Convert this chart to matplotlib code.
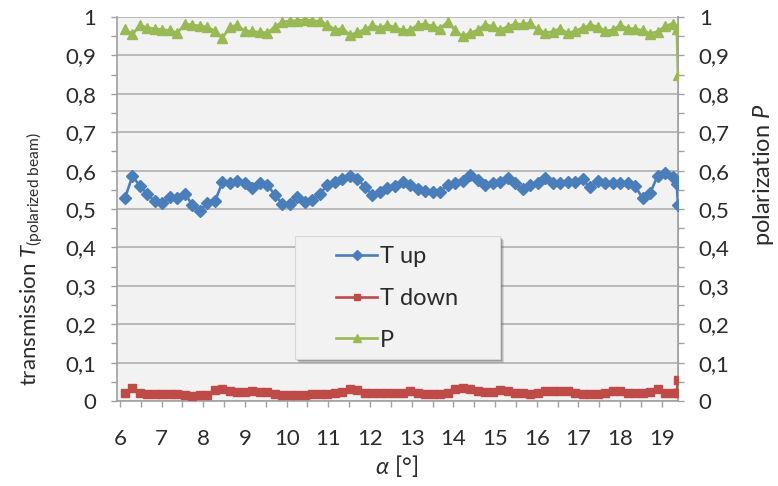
import matplotlib
matplotlib.use("Agg")
import matplotlib.pyplot as plt
from matplotlib.patches import Rectangle
from matplotlib.ticker import MultipleLocator, FuncFormatter

# Incidence angle alpha in degrees
angle = [6.12, 6.30, 6.48, 6.66, 6.84, 7.02, 7.20, 7.38, 7.56, 7.74,
         7.92, 8.10, 8.28, 8.46, 8.64, 8.82, 9.00, 9.18, 9.36, 9.54,
         9.72, 9.90, 10.08, 10.26, 10.44, 10.62, 10.80, 10.98, 11.16, 11.34,
         11.52, 11.70, 11.88, 12.06, 12.24, 12.42, 12.60, 12.78, 12.96, 13.14,
         13.32, 13.50, 13.68, 13.86, 14.04, 14.22, 14.40, 14.58, 14.76, 14.94,
         15.12, 15.30, 15.48, 15.66, 15.84, 16.02, 16.20, 16.38, 16.56, 16.74,
         16.92, 17.10, 17.28, 17.46, 17.64, 17.82, 18.00, 18.18, 18.36, 18.54,
         18.72, 18.90, 19.08, 19.26, 19.36, 19.39]

t_up = [0.528, 0.586, 0.560, 0.539, 0.520, 0.515, 0.530, 0.528, 0.540, 0.510,
        0.495, 0.516, 0.520, 0.570, 0.568, 0.573, 0.567, 0.554, 0.567, 0.563,
        0.536, 0.513, 0.513, 0.530, 0.519, 0.523, 0.539, 0.563, 0.570, 0.577,
        0.586, 0.577, 0.558, 0.536, 0.545, 0.554, 0.560, 0.571, 0.563, 0.551,
        0.548, 0.545, 0.545, 0.563, 0.568, 0.573, 0.589, 0.576, 0.563, 0.567,
        0.571, 0.582, 0.567, 0.551, 0.563, 0.567, 0.582, 0.567, 0.567, 0.571,
        0.571, 0.577, 0.556, 0.574, 0.568, 0.567, 0.567, 0.568, 0.560, 0.528,
        0.541, 0.586, 0.593, 0.584, 0.565, 0.510]

t_down = [0.022, 0.033, 0.020, 0.018, 0.018, 0.019, 0.018, 0.018, 0.015, 0.014,
          0.015, 0.016, 0.029, 0.031, 0.025, 0.024, 0.024, 0.025, 0.024, 0.023,
          0.018, 0.016, 0.015, 0.016, 0.015, 0.017, 0.019, 0.019, 0.020, 0.024,
          0.030, 0.029, 0.022, 0.020, 0.020, 0.021, 0.020, 0.022, 0.026, 0.020,
          0.018, 0.018, 0.019, 0.022, 0.031, 0.033, 0.030, 0.025, 0.024, 0.023,
          0.028, 0.027, 0.021, 0.020, 0.019, 0.021, 0.026, 0.026, 0.027, 0.025,
          0.020, 0.018, 0.018, 0.019, 0.022, 0.026, 0.025, 0.021, 0.021, 0.022,
          0.023, 0.030, 0.021, 0.020, 0.020, 0.055]

polarization = [0.968, 0.955, 0.978, 0.972, 0.969, 0.967, 0.965, 0.959, 0.982, 0.979,
                0.977, 0.973, 0.964, 0.945, 0.975, 0.978, 0.963, 0.963, 0.960, 0.959,
                0.975, 0.987, 0.990, 0.990, 0.993, 0.990, 0.989, 0.980, 0.967, 0.970,
                0.953, 0.960, 0.968, 0.978, 0.972, 0.979, 0.973, 0.965, 0.966, 0.979,
                0.982, 0.976, 0.970, 0.987, 0.966, 0.950, 0.958, 0.966, 0.980, 0.976,
                0.966, 0.975, 0.982, 0.981, 0.984, 0.968, 0.959, 0.962, 0.970, 0.958,
                0.963, 0.972, 0.979, 0.975, 0.964, 0.966, 0.979, 0.970, 0.969, 0.965,
                0.957, 0.962, 0.976, 0.983, 0.970, 0.850]

series_labels = ["T up", "T down", "P"]
x_ticks = list(range(6, 20))

FONT = "Lato"
plt.rcParams["font.family"] = [FONT, "DejaVu Sans"]
plt.rcParams["mathtext.fontset"] = "custom"
plt.rcParams["mathtext.rm"] = FONT
plt.rcParams["mathtext.it"] = FONT + ":italic"

TEXT = "#2b2b2b"
AXIS = "#a0a0a0"
GRID = "#b4b4b4"
PANEL = "#f2f2f2"

W, H = 778, 486
fig = plt.figure(figsize=(W / 100, H / 100), dpi=100)
fig.patch.set_facecolor("white")
L, R, T, B = 117, 678, 17, 401
ax = fig.add_axes([L / W, 1 - B / H, (R - L) / W, (B - T) / H])
ax.set_facecolor(PANEL)

ax.plot(angle, t_up, color="#4a7ebb", lw=1.9, marker="D", ms=6.5,
        label=series_labels[0], zorder=3)
ax.plot(angle, t_down, color="#be4b48", lw=1.9, marker="s", ms=5.5,
        label=series_labels[1], zorder=3)
ax.plot(angle, polarization, color="#98b954", lw=1.9, marker="^", ms=7.5,
        label=series_labels[2], zorder=3)

ax.set_xlim(5.93, 19.39)
ax.set_ylim(0, 1)

comma = FuncFormatter(lambda v, p: ("%g" % round(v, 2)).replace(".", ","))

ax.yaxis.set_major_locator(MultipleLocator(0.1))
ax.yaxis.set_minor_locator(MultipleLocator(0.05))
ax.yaxis.set_major_formatter(comma)
ax.set_xticks(x_ticks)
ax.xaxis.set_minor_locator(MultipleLocator(0.5))

ax.grid(axis="y", which="major", color=GRID, lw=1.3, zorder=0)
ax.set_axisbelow(True)

ax.spines["top"].set_visible(False)
for side in ["left", "bottom", "right"]:
    ax.spines[side].set_color(AXIS)
    ax.spines[side].set_linewidth(1.2)

ax.tick_params(axis="both", which="both", color=AXIS, width=1, length=4,
               direction="out", labelcolor=TEXT, labelsize=16)
ax.tick_params(axis="y", which="major", pad=11)
ax.tick_params(axis="x", which="major", pad=16)

ax2 = ax.twinx()
ax2.set_ylim(0, 1)
ax2.yaxis.set_major_locator(MultipleLocator(0.1))
ax2.yaxis.set_minor_locator(MultipleLocator(0.05))
ax2.yaxis.set_major_formatter(comma)
ax2.tick_params(axis="y", which="both", color=AXIS, width=1, length=4,
                direction="out", labelcolor=TEXT, labelsize=16)
ax2.tick_params(axis="y", which="major", pad=11)
for side in ["top", "left", "bottom"]:
    ax2.spines[side].set_visible(False)
ax2.spines["right"].set_color(AXIS)
ax2.spines["right"].set_linewidth(1.2)
ax2.set_zorder(ax.get_zorder() - 1)

# Legend box with a soft drop shadow, drawn in pixel coordinates
bx0, by0, bx1, by1 = 295, 236, 500, 359
to_fig = lambda x, y: (x / W, 1 - y / H)
for off, alpha in [(4, 0.18), (3, 0.25), (2, 0.35)]:
    fig.patches.append(Rectangle(to_fig(bx0 + off, by1 + off), (bx1 - bx0) / W,
                                 (by1 - by0) / H, transform=fig.transFigure,
                                 facecolor="#606060", edgecolor="none",
                                 alpha=alpha, zorder=4))
fig.patches.append(Rectangle(to_fig(bx0, by1), (bx1 - bx0) / W, (by1 - by0) / H,
                             transform=fig.transFigure, facecolor=PANEL,
                             edgecolor="#d8d8d8", lw=0.8, zorder=4.5))

leg = fig.legend(*ax.get_legend_handles_labels(), loc="upper left",
                 bbox_to_anchor=to_fig(336, 246), fontsize=17, frameon=False,
                 handlelength=1.75, handletextpad=0.1, labelspacing=0.88,
                 borderpad=0, borderaxespad=0, markerscale=0.75)
leg.set_zorder(5)
for txt in leg.get_texts():
    txt.set_color(TEXT)

fig.text(32 / W, 1 - 259 / H, r"transmission $T_{\mathrm{(polarized\ beam)}}$",
         rotation=90, ha="center", va="center", fontsize=16, color=TEXT)
fig.text(763 / W, 1 - 175 / H, r"polarization $P$",
         rotation=90, ha="center", va="center", fontsize=17, color=TEXT)
fig.text(397 / W, 1 - 466 / H, r"$\alpha$ [°]",
         ha="center", va="center", fontsize=17, color=TEXT)

fig.savefig("out.png", dpi=100)
